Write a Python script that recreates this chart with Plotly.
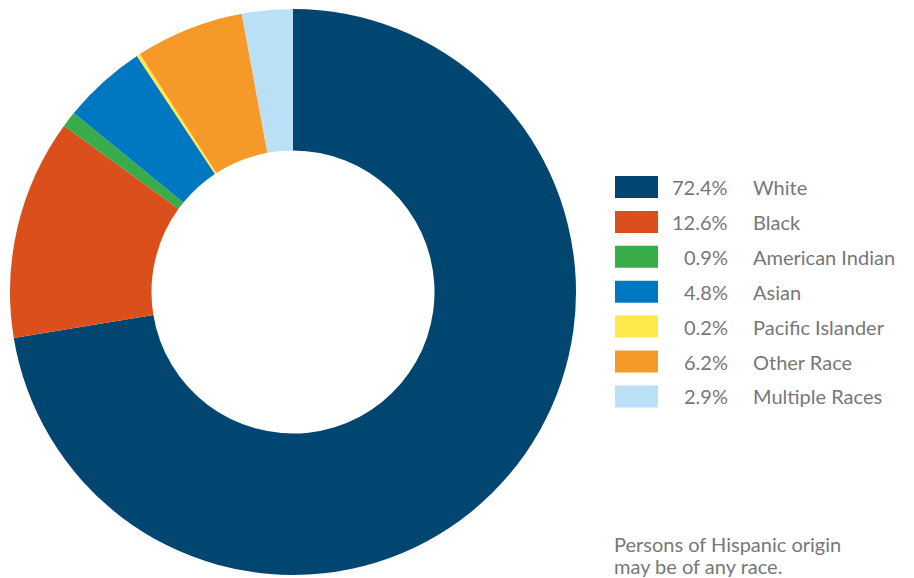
import plotly.graph_objects as go

categories = ["White", "Black", "American Indian", "Asian", "Pacific Islander", "Other Race", "Multiple Races"]
values = [72.4, 12.6, 0.9, 4.8, 0.2, 6.2, 2.9]
colors = ["#014571", "#DB4F1D", "#38AC48", "#0077C1", "#FFE84A", "#F59A28", "#BAE0F6"]
note_lines = ["Persons of Hispanic origin", "may be of any race."]

W, H = 914, 578
FONT = "Lato"
FS = 20
GRAY = "#777777"

fig = go.Figure(go.Pie(
    labels=categories, values=values, sort=False, direction="clockwise", rotation=0,
    hole=0.5, marker=dict(colors=colors, line=dict(width=0)),
    textinfo="none", hoverinfo="label+percent", showlegend=False,
    domain=dict(x=[10 / W, 576 / W], y=[3 / H, 569 / H]),
))

shapes, annotations = [], []
y0, step = 187, 34.9
for i, (c, v, col) in enumerate(zip(categories, values, colors)):
    yc = y0 + i * step
    shapes.append(dict(type="rect", xref="paper", yref="paper",
                       x0=615 / W, x1=658 / W, y0=1 - (yc + 11) / H, y1=1 - (yc - 11) / H,
                       fillcolor=col, line=dict(width=0)))
    annotations.append(dict(xref="paper", yref="paper", x=730 / W, y=1 - yc / H,
                            xanchor="right", yanchor="middle", showarrow=False,
                            text=f"{v:.1f}%", font=dict(family=FONT, size=FS, color=GRAY)))
    annotations.append(dict(xref="paper", yref="paper", x=751 / W, y=1 - yc / H,
                            xanchor="left", yanchor="middle", showarrow=False,
                            text=c, font=dict(family=FONT, size=FS, color=GRAY)))

for j, line in enumerate(note_lines):
    annotations.append(dict(xref="paper", yref="paper", x=612 / W, y=1 - (544 + 22 * j) / H,
                            xanchor="left", yanchor="middle", showarrow=False, align="left",
                            text=line, font=dict(family=FONT, size=FS, color=GRAY)))

fig.update_layout(width=W, height=H, margin=dict(l=0, r=0, t=0, b=0),
                  paper_bgcolor="white", plot_bgcolor="white",
                  shapes=shapes, annotations=annotations)
fig.write_html("out.html")
